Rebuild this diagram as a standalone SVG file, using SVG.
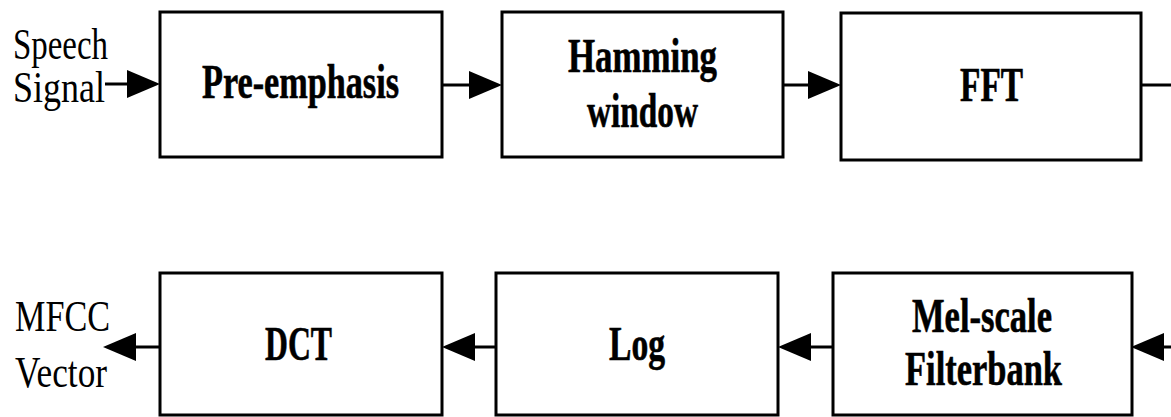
<svg xmlns="http://www.w3.org/2000/svg" width="1171" height="417" viewBox="0 0 1171 417">
  <style>
    .box { fill: #ffffff; stroke: #000000; stroke-width: 3; }
    .wire { fill: none; stroke: #000000; stroke-width: 3; marker-end: url(#head); }
    .plain { fill: none; stroke: #000000; stroke-width: 3; }
    .lbl { font-family: "Liberation Serif", "Times New Roman", serif; font-weight: bold; font-size: 48px; fill: #000000; stroke: #000000; stroke-width: 0.6; }
    .io { font-family: "Liberation Serif", "Times New Roman", serif; font-size: 45px; fill: #000000; }
  </style>
  <defs>
    <!-- filled arrowhead; its base sits on the end of the line -->
    <marker id="head" viewBox="0 0 33 28" refX="0" refY="14" markerWidth="33" markerHeight="28" markerUnits="userSpaceOnUse" orient="auto">
      <path d="M0,0 L33,14 L0,28 Z" fill="#000000"/>
    </marker>
  </defs>
  <rect width="1171" height="417" fill="#ffffff"/>

  <!-- signal flow -->
  <g id="connectors">
    <path class="wire" d="M105,84 H127"/>
    <path class="wire" d="M442,85 H469"/>
    <path class="wire" d="M783,85 H808"/>
    <path class="plain" d="M1141,85 H1171"/>
    <path class="wire" d="M1171,347 H1164"/>
    <path class="wire" d="M833,347 H811"/>
    <path class="wire" d="M496,347 H475"/>
    <path class="wire" d="M160,347 H136"/>
  </g>

  <g id="input-label">
    <text class="io" x="13" y="59" textLength="95" lengthAdjust="spacingAndGlyphs">Speech</text>
    <text class="io" x="13" y="102" textLength="92" lengthAdjust="spacingAndGlyphs">Signal</text>
  </g>

  <g id="pre-emphasis">
    <rect class="box" x="160" y="12" width="282" height="145"/>
    <text class="lbl" x="202" y="98" textLength="197" lengthAdjust="spacingAndGlyphs">Pre-emphasis</text>
  </g>

  <g id="hamming-window">
    <rect class="box" x="502" y="12" width="281" height="145"/>
    <text class="lbl" x="568" y="72" textLength="149" lengthAdjust="spacingAndGlyphs">Hamming</text>
    <text class="lbl" x="587" y="127" textLength="111" lengthAdjust="spacingAndGlyphs">window</text>
  </g>

  <g id="fft">
    <rect class="box" x="841" y="13" width="300" height="147"/>
    <text class="lbl" x="960" y="101" textLength="63" lengthAdjust="spacingAndGlyphs">FFT</text>
  </g>

  <g id="mel-filterbank">
    <rect class="box" x="833" y="273" width="299" height="142"/>
    <text class="lbl" x="912" y="332" textLength="140" lengthAdjust="spacingAndGlyphs">Mel-scale</text>
    <text class="lbl" x="905" y="385" textLength="157" lengthAdjust="spacingAndGlyphs">Filterbank</text>
  </g>

  <g id="log">
    <rect class="box" x="496" y="273" width="282" height="142"/>
    <text class="lbl" x="609" y="360" textLength="56" lengthAdjust="spacingAndGlyphs">Log</text>
  </g>

  <g id="dct">
    <rect class="box" x="160" y="273" width="282" height="142"/>
    <text class="lbl" x="265" y="360" textLength="67" lengthAdjust="spacingAndGlyphs">DCT</text>
  </g>

  <g id="output-label">
    <text class="io" x="15" y="331" textLength="95" lengthAdjust="spacingAndGlyphs">MFCC</text>
    <text class="io" x="15" y="387" textLength="92" lengthAdjust="spacingAndGlyphs">Vector</text>
  </g>
</svg>
